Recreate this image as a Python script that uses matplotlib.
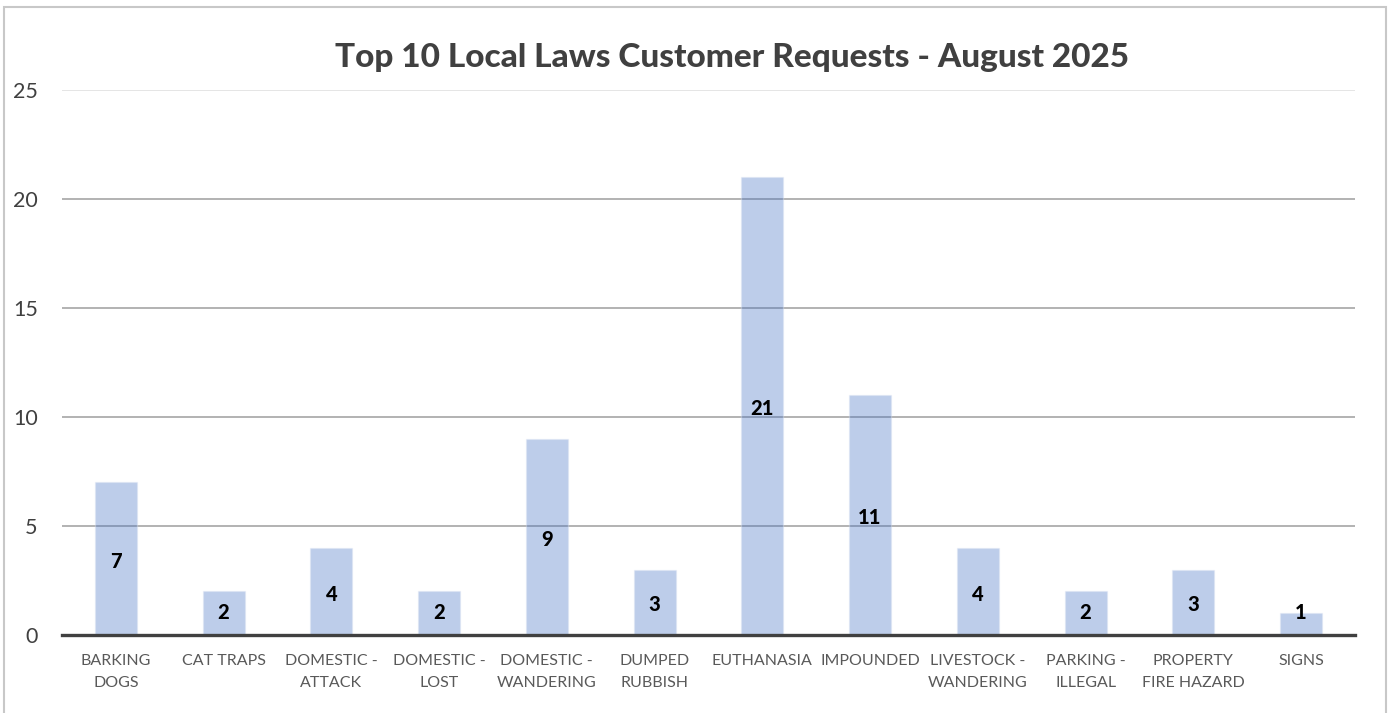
import matplotlib
matplotlib.use('Agg')
import matplotlib.pyplot as plt
from matplotlib.patches import Rectangle

plt.rcParams['font.family'] = ['Lato', 'DejaVu Sans']

categories = ["BARKING\nDOGS", "CAT TRAPS", "DOMESTIC -\nATTACK", "DOMESTIC -\nLOST",
              "DOMESTIC -\nWANDERING", "DUMPED\nRUBBISH", "EUTHANASIA", "IMPOUNDED",
              "LIVESTOCK -\nWANDERING", "PARKING -\nILLEGAL", "PROPERTY\nFIRE HAZARD", "SIGNS"]
values = [7, 2, 4, 2, 9, 3, 21, 11, 4, 2, 3, 1]
yticks = [0, 5, 10, 15, 20, 25]
title = "Top 10 Local Laws Customer Requests - August 2025"

fig = plt.figure(figsize=(13.9, 7.13), dpi=100)
ax = fig.add_axes([0.0446, 0.1094, 0.9302, 0.7644])

# chart border
fig.patches.append(Rectangle((0.003, -0.01), 0.994, 1.0, transform=fig.transFigure,
                             fill=False, edgecolor='#C8C8C8', linewidth=1.5))

x = range(len(values))
ax.bar(x, values, width=0.39, color='#4472C4', alpha=0.35,
       edgecolor='#DAE3F3', linewidth=1, zorder=3)

for i, v in enumerate(values):
    ax.text(i, max(v / 2, 1.15) - 0.12, str(v), ha='center', va='center',
            fontsize=14.5, fontweight='black', color='black', zorder=4)

for t in yticks[1:]:
    ax.axhline(t, color='#E0E0E0' if t == 25 else '#A6A6A6', linewidth=1.2, zorder=1)

ax.set_xlim(-0.5, len(values) - 0.5)
ax.set_ylim(0, 25)
ax.set_yticks(yticks)
ax.set_yticklabels([str(t) for t in yticks], fontsize=15.5, color='#404040')
ax.set_xticks(list(x))
ax.set_xticklabels(categories, fontsize=11.5, color='#595959', linespacing=1.75)
ax.tick_params(axis='y', length=0, pad=17.5)
ax.tick_params(axis='x', length=0, pad=13.5)

for s in ['top', 'right', 'left']:
    ax.spines[s].set_visible(False)
ax.spines['bottom'].set_color('#404040')
ax.spines['bottom'].set_linewidth(2.4)
ax.spines['bottom'].set_zorder(5)

fig.text(0.527, 0.92, title, ha='center', va='center', fontsize=24,
         fontweight='black', color='#404040')

fig.savefig('out.png', dpi=100)
